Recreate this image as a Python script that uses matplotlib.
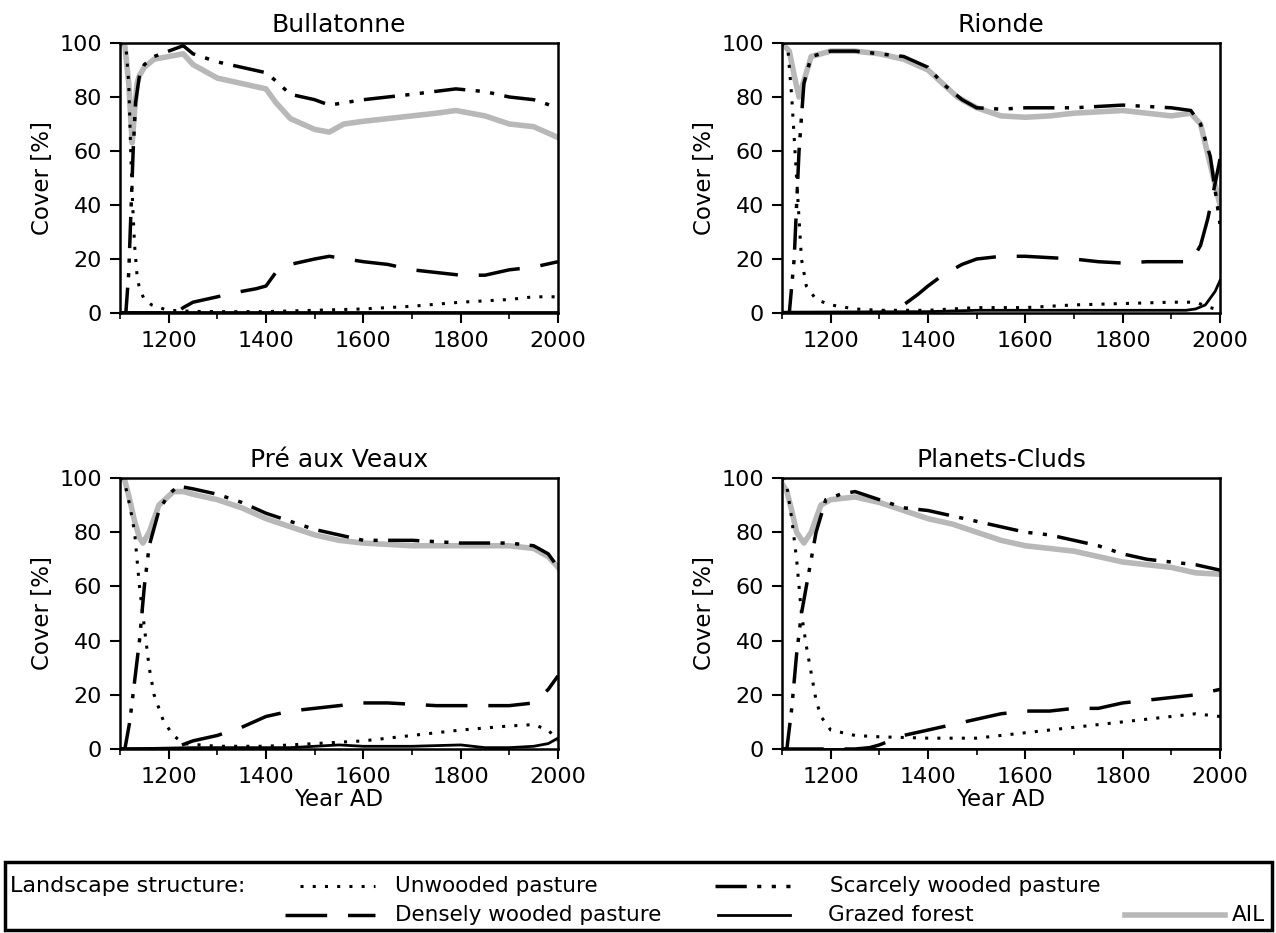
import matplotlib
matplotlib.use("Agg")
import matplotlib.pyplot as plt
from matplotlib.lines import Line2D
from matplotlib.patches import Rectangle

plt.rcParams['font.family'] = ['DejaVu Sans']

titles = ["Bullatonne", "Rionde", "Pré aux Veaux", "Planets-Cluds"]
series_names = ["Unwooded pasture", "Scarcely wooded pasture",
                "Densely wooded pasture", "Grazed forest", "AIL"]

# ---------------- Bullatonne ----------------
bul_unw_x = [1100, 1112, 1118, 1122, 1126, 1130, 1135, 1140, 1150, 1165, 1180, 1200, 1250, 1300, 1400, 1500, 1600, 1700, 1800, 1900, 1950, 2000]
bul_unw_y = [100, 99, 85, 60, 40, 25, 14, 9, 5, 3, 2, 1, 0.6, 0.5, 0.5, 1, 1.5, 2.5, 4, 5, 6, 6]
bul_sca_x = [1100, 1112, 1118, 1122, 1127, 1132, 1140, 1150, 1170, 1200, 1230, 1250, 1300, 1350, 1400, 1420, 1450, 1500, 1530, 1600, 1700, 1790, 1850, 1900, 1950, 2000]
bul_sca_y = [0, 0, 15, 35, 60, 78, 88, 92, 95, 97, 99, 96, 93, 91, 89, 86, 81, 79, 77, 79, 81, 83, 82, 80, 79, 76]
bul_den_x = [1100, 1215, 1230, 1250, 1300, 1350, 1380, 1400, 1420, 1450, 1500, 1530, 1600, 1650, 1700, 1750, 1800, 1850, 1900, 1950, 2000]
bul_den_y = [0, 0, 2, 4, 6, 8, 9, 10, 15, 18, 20, 21, 19, 18, 16, 15, 14, 14, 16, 17, 19]
bul_gra_x = [1100, 2000]
bul_gra_y = [0.3, 0.3]
bul_ail_x = [1100, 1110, 1118, 1125, 1130, 1135, 1140, 1150, 1170, 1200, 1230, 1250, 1300, 1350, 1400, 1420, 1450, 1500, 1530, 1560, 1600, 1650, 1700, 1750, 1790, 1850, 1900, 1950, 2000]
bul_ail_y = [100, 99, 85, 63, 75, 85, 88, 91, 94, 95, 96, 92, 87, 85, 83, 78, 72, 68, 67, 70, 71, 72, 73, 74, 75, 73, 70, 69, 65]

# ---------------- Rionde ----------------
rio_unw_x = [1100, 1112, 1120, 1130, 1140, 1150, 1170, 1200, 1250, 1300, 1400, 1500, 1600, 1700, 1800, 1900, 1950, 1980, 2000]
rio_unw_y = [100, 98, 80, 50, 20, 10, 5, 3, 1.5, 1, 1, 2, 2, 3, 3.5, 4, 4, 2, 1]
rio_sca_x = [1100, 1115, 1125, 1135, 1145, 1160, 1200, 1250, 1300, 1350, 1400, 1430, 1470, 1500, 1550, 1600, 1700, 1800, 1900, 1940, 1960, 1980, 2000]
rio_sca_y = [0, 0, 20, 60, 85, 95, 97, 97, 96, 95, 91, 85, 79, 76, 75.5, 76, 76, 77, 76, 75, 70, 58, 33]
rio_den_x = [1100, 1300, 1320, 1350, 1380, 1400, 1430, 1470, 1500, 1550, 1600, 1650, 1700, 1750, 1800, 1850, 1900, 1940, 1960, 1975, 1990, 2000]
rio_den_y = [0, 0, 1, 3, 7, 10, 14, 18, 20, 21, 21, 20.5, 20, 19, 18.5, 19, 19, 19, 25, 35, 48, 57]
rio_gra_x = [1100, 1400, 1500, 1900, 1930, 1950, 1970, 1990, 2000]
rio_gra_y = [0.3, 0.5, 1, 1, 1, 1.5, 3, 8, 12]
rio_ail_x = [1100, 1115, 1125, 1135, 1145, 1160, 1200, 1250, 1300, 1350, 1400, 1430, 1460, 1500, 1550, 1600, 1650, 1700, 1800, 1850, 1900, 1940, 1960, 1980, 2000]
rio_ail_y = [100, 97, 88, 80, 86, 95, 97, 97, 96, 94, 90, 85, 80, 76, 73, 72.5, 73, 74, 75, 74, 73, 74, 70, 55, 40]

# ---------------- Pré aux Veaux ----------------
pre_unw_x = [1100, 1110, 1120, 1130, 1140, 1150, 1160, 1170, 1190, 1210, 1230, 1300, 1400, 1500, 1600, 1700, 1800, 1900, 1950, 1980, 2000]
pre_unw_y = [100, 98, 90, 80, 60, 45, 30, 20, 10, 5, 2, 1, 1, 2, 3, 5, 7, 8.5, 9, 7, 3]
pre_sca_x = [1100, 1110, 1120, 1130, 1140, 1150, 1160, 1180, 1200, 1220, 1250, 1300, 1350, 1400, 1450, 1500, 1550, 1600, 1700, 1800, 1900, 1950, 1980, 2000]
pre_sca_y = [0, 0, 10, 25, 40, 60, 75, 88, 94, 97, 96, 94, 91, 87, 84, 81, 79, 77, 77, 76, 76, 75, 72, 67]
pre_den_x = [1100, 1200, 1220, 1250, 1300, 1350, 1400, 1450, 1500, 1550, 1600, 1650, 1700, 1750, 1800, 1850, 1900, 1950, 1980, 2000]
pre_den_y = [0, 0, 1, 3, 5, 8, 12, 14, 15, 16, 17, 17, 16.5, 16, 16, 16, 16, 17, 22, 27]
pre_gra_x = [1100, 1250, 1450, 1500, 1550, 1600, 1700, 1800, 1850, 1900, 1950, 1980, 2000]
pre_gra_y = [0, 0.5, 0.5, 1, 1.5, 1, 1, 1.5, 0.5, 0.5, 1, 2, 4]
pre_ail_x = [1100, 1110, 1120, 1130, 1140, 1147, 1160, 1180, 1210, 1230, 1250, 1300, 1350, 1400, 1450, 1500, 1550, 1600, 1700, 1800, 1900, 1950, 1980, 2000]
pre_ail_y = [100, 99, 92, 84, 78, 76, 80, 90, 95, 95, 94, 92, 89, 85, 82, 79, 77, 76, 75, 75, 75, 74, 71, 67]

# ---------------- Planets-Cluds ----------------
pla_unw_x = [1100, 1110, 1120, 1130, 1140, 1150, 1160, 1170, 1180, 1200, 1250, 1300, 1400, 1500, 1550, 1600, 1700, 1800, 1900, 1950, 2000]
pla_unw_y = [100, 97, 85, 70, 50, 38, 28, 18, 12, 7, 5, 4.5, 4, 4, 5, 6, 8, 10, 12, 13, 12]
pla_sca_x = [1100, 1110, 1120, 1130, 1140, 1150, 1160, 1170, 1190, 1220, 1250, 1300, 1350, 1400, 1450, 1500, 1550, 1600, 1650, 1700, 1750, 1800, 1850, 1900, 1950, 2000]
pla_sca_y = [0, 0, 15, 35, 50, 60, 70, 80, 92, 94, 95, 92, 89, 88, 86, 84, 82, 80, 79, 77, 75, 72, 70, 69, 68, 66]
pla_den_x = [1100, 1250, 1280, 1300, 1350, 1400, 1450, 1500, 1550, 1600, 1650, 1700, 1750, 1800, 1850, 1900, 1950, 2000]
pla_den_y = [0, 0, 0.5, 1.5, 5, 7, 9, 11, 13, 14, 14, 15, 15, 17, 18, 19, 20, 22]
pla_gra_x = [1100, 2000]
pla_gra_y = [0, 0]
pla_ail_x = [1100, 1110, 1120, 1130, 1145, 1160, 1180, 1200, 1250, 1300, 1350, 1400, 1450, 1500, 1550, 1600, 1700, 1750, 1800, 1900, 1950, 2000]
pla_ail_y = [98, 95, 88, 80, 76, 80, 90, 92, 93, 91, 88, 85, 83, 80, 77, 75, 73, 71, 69, 67, 65, 64.5]

panels = [
    (bul_unw_x, bul_unw_y, bul_sca_x, bul_sca_y, bul_den_x, bul_den_y, bul_gra_x, bul_gra_y, bul_ail_x, bul_ail_y),
    (rio_unw_x, rio_unw_y, rio_sca_x, rio_sca_y, rio_den_x, rio_den_y, rio_gra_x, rio_gra_y, rio_ail_x, rio_ail_y),
    (pre_unw_x, pre_unw_y, pre_sca_x, pre_sca_y, pre_den_x, pre_den_y, pre_gra_x, pre_gra_y, pre_ail_x, pre_ail_y),
    (pla_unw_x, pla_unw_y, pla_sca_x, pla_sca_y, pla_den_x, pla_den_y, pla_gra_x, pla_gra_y, pla_ail_x, pla_ail_y),
]

styles = [
    dict(color='black', lw=2.2, ls=(0, (1, 3)), zorder=4),
    dict(color='black', lw=2.5, ls=(0, (9, 3, 1.2, 3, 1.2, 3)), zorder=4),
    dict(color='black', lw=2.5, ls=(0, (12, 6)), zorder=4),
    dict(color='black', lw=2.0, ls='-', zorder=3),
    dict(color='#b8b8b8', lw=4.0, ls='-', zorder=2),
]

W, H = 1276, 933
fig = plt.figure(figsize=(W / 100, H / 100), dpi=100)

boxes = [(120, 43, 558, 313), (782, 43, 1220, 313), (120, 478, 558, 749), (782, 478, 1220, 749)]

for i, (box, data) in enumerate(zip(boxes, panels)):
    l, t, r, b = box
    ax = fig.add_axes([l / W, 1 - b / H, (r - l) / W, (b - t) / H])
    for k in range(5):
        xs, ys = data[2 * k], data[2 * k + 1]
        ax.plot(xs, ys, **styles[k])
    ax.set_xlim(1100, 2000)
    ax.set_ylim(0, 100)
    ax.set_xticks([1200, 1400, 1600, 1800, 2000])
    ax.set_xticks([1100, 1300, 1500, 1700, 1900], minor=True)
    ax.set_yticks([0, 20, 40, 60, 80, 100])
    ax.tick_params(axis='both', which='major', direction='out', length=7, width=1.5, labelsize=16, pad=6)
    ax.tick_params(axis='x', which='minor', direction='out', length=4, width=1.2)
    for s in ax.spines.values():
        s.set_linewidth(1.8)
    ax.set_title(titles[i], fontsize=18, pad=8)
    ax.set_ylabel("Cover [%]", fontsize=16.5, labelpad=4)
    if i >= 2:
        ax.set_xlabel("Year AD", fontsize=16.5, labelpad=1)

# legend box
fig.add_artist(Rectangle((5 / W, 1 - 930 / H), (1272 - 5) / W, (930 - 862) / H,
                         transform=fig.transFigure, fill=False, lw=2.5, edgecolor='black'))
fig.text(10 / W, 1 - 886 / H, "Landscape structure:", fontsize=16, va='center', ha='left')

leg_items = [
    (0, (300, 375), 886, (395, "Unwooded pasture")),
    (1, (715, 790), 886, (830, "Scarcely wooded pasture")),
    (2, (285, 375), 915, (395, "Densely wooded pasture")),
    (3, (718, 790), 915, (828, "Grazed forest")),
    (4, (1125, 1225), 915, (1232, "AIL")),
]
for k, (x0, x1), yy, (tx, label) in leg_items:
    st = styles[k]
    fig.add_artist(Line2D([x0 / W, x1 / W], [1 - yy / H, 1 - yy / H], transform=fig.transFigure,
                          color=st['color'], lw=st['lw'], ls=st['ls']))
    fig.text(tx / W, 1 - yy / H, label, fontsize=15.5, va='center', ha='left')

fig.savefig("out.png", dpi=100)
